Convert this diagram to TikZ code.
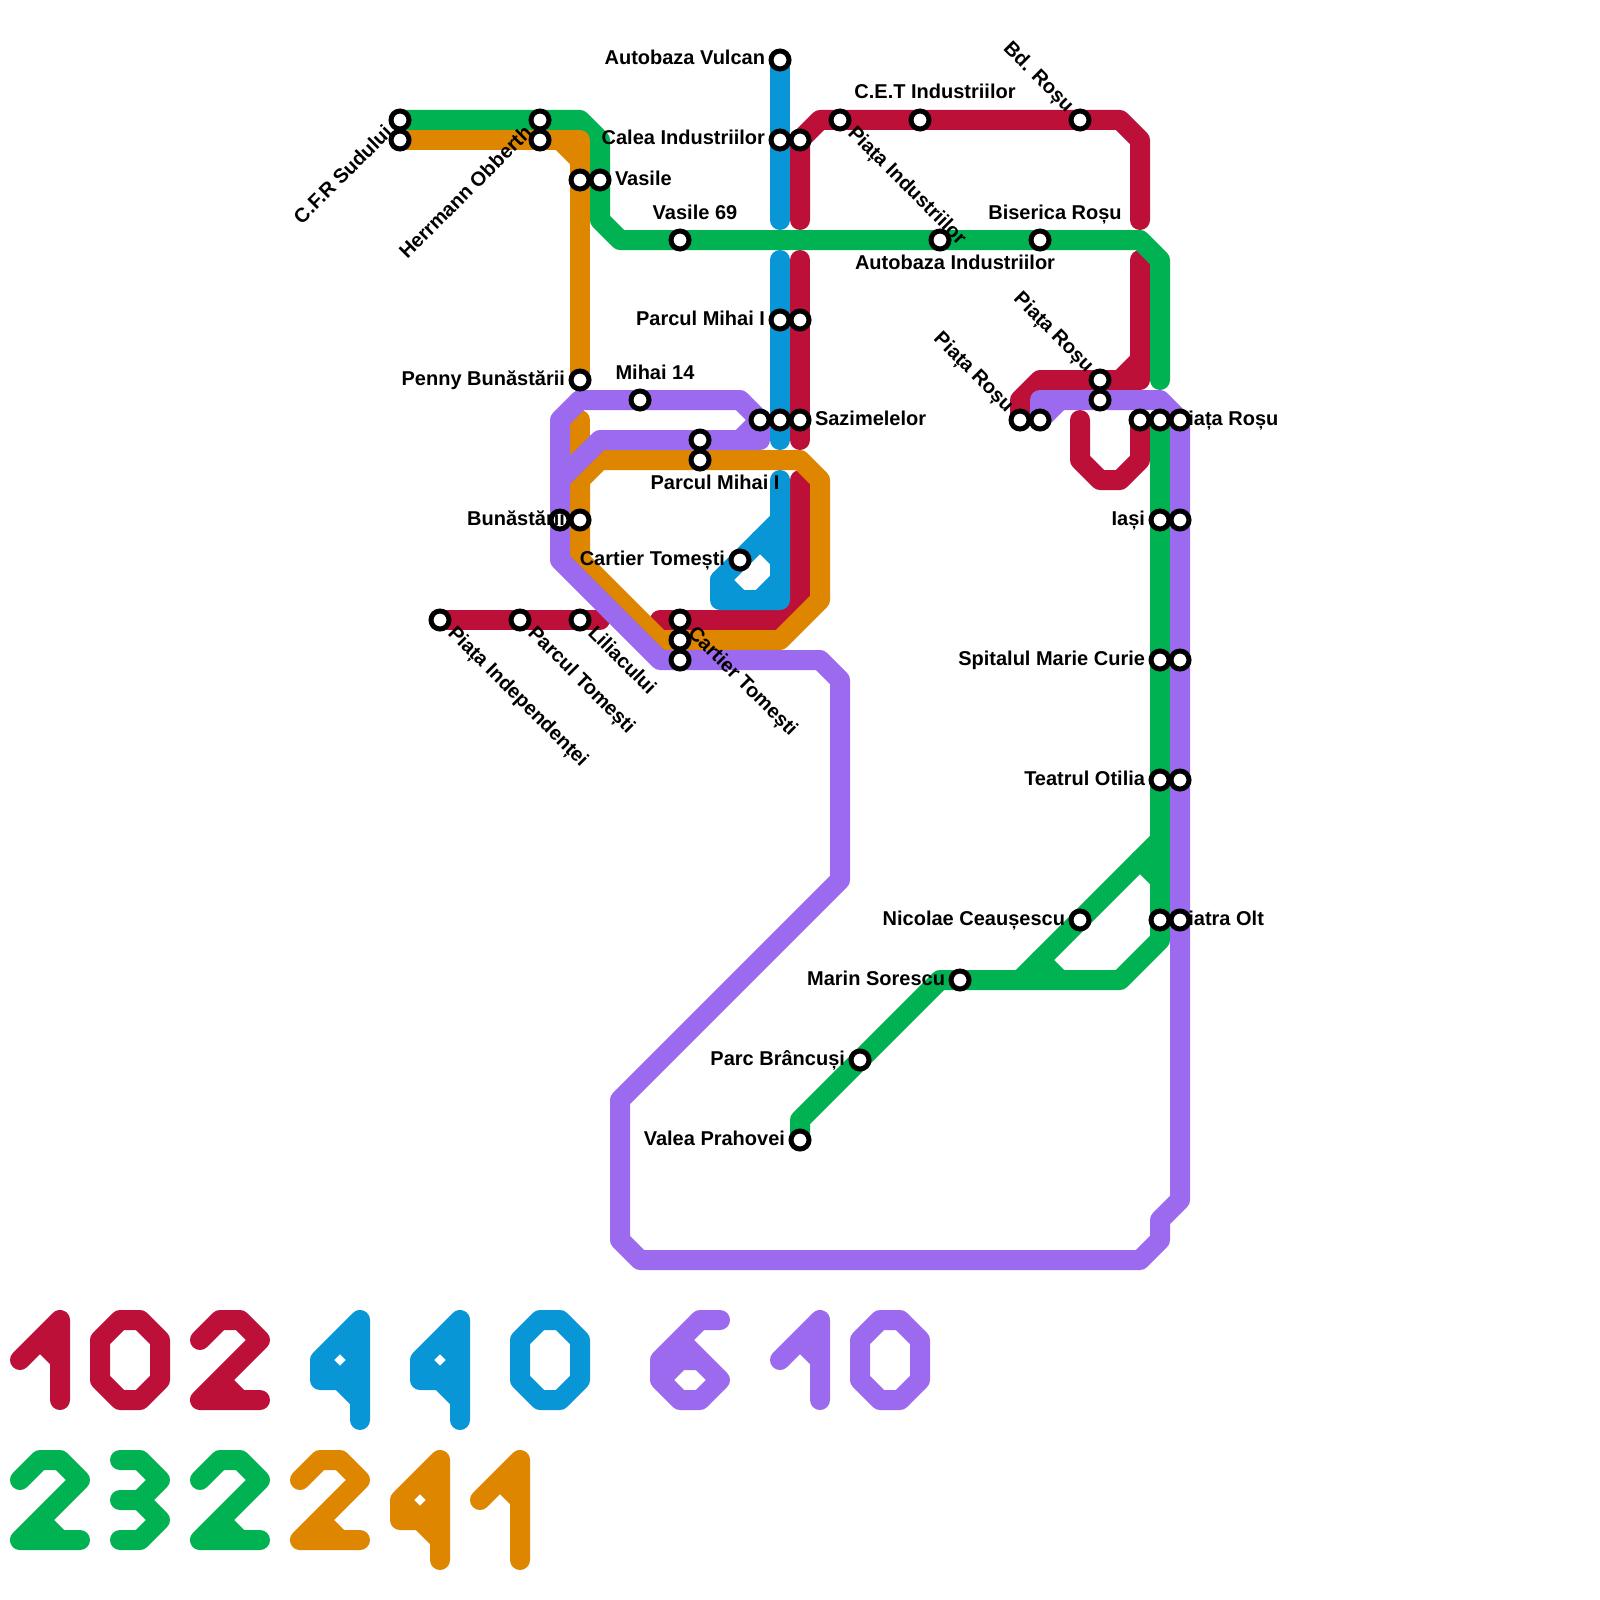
\documentclass[tikz,border=0pt]{standalone}
\usepackage{fontspec}
\setmainfont{Liberation Sans}
\usetikzlibrary{calc,backgrounds}
\definecolor{lred}{HTML}{BD1038}
\definecolor{lblue}{HTML}{0896D7}
\definecolor{lgreen}{HTML}{00B251}
\definecolor{lorange}{HTML}{DF8600}
\definecolor{lpurple}{HTML}{9B6AEE}
\tikzset{
  route/.style={draw=#1,line width=20pt,line cap=round,line join=round},
  stn/.style={circle,draw=black,fill=white,line width=5pt,minimum size=18pt,inner sep=0pt},
  lbl/.style={inner sep=0pt,outer sep=0pt,text=black,font=\fontsize{20}{24}\selectfont\bfseries},
  lblL/.style={lbl,anchor=base east},
  lblR/.style={lbl,anchor=base west},
  lblC/.style={lbl,anchor=base},
  lblDR/.style={lbl,anchor=base west,rotate=-45},
  lblDL/.style={lbl,anchor=base east,rotate=-45},
  lblUR/.style={lbl,anchor=base east,rotate=45}
}
\newcommand\stn[3]{\node[stn] (#1) at (#2,#3) {};}
\newcommand\tL[2]{\node[lblL] at ($(#1.center)+(-15,5)$) {#2};}
\newcommand\tR[2]{\node[lblR] at ($(#1.center)+(15,5)$) {#2};}
\newcommand\tT[2]{\node[lblC] at ($(#1.center)+(15,-21)$) {#2};}
\newcommand\tB[2]{\node[lblC] at ($(#1.center)+(15,29)$) {#2};}
\newcommand\tDR[2]{\node[lblDR] at ($(#1.center)+(7,14)$) {#2};}
\newcommand\tDL[2]{\node[lblDL] at ($(#1.center)+(-14,-7)$) {#2};}
\newcommand\tUR[2]{\node[lblUR] at ($(#1.center)+(-7,14)$) {#2};}
% stick digits: #1 colour, #2 x, #3 y of the top left grid point
\newcommand\dOne[4]{\draw[route=#1,shift={(#2,#3)}] (0,40) -- (40,0) -- (40,#4) (20,20) -- (40,40);}
\newcommand\dZero[3]{\draw[route=#1,shift={(#2,#3)}] (20,0) -- (40,0) -- (60,20) -- (60,60) -- (40,80) -- (20,80) -- (0,60) -- (0,20) -- cycle;}
\newcommand\dTwo[3]{\draw[route=#1,shift={(#2,#3)}] (0,20) -- (20,0) -- (40,0) -- (60,20) -- (0,80) -- (60,80) (20,60) -- (40,80);}
\newcommand\dFour[3]{\draw[route=#1,shift={(#2,#3)}] (40,100) -- (40,0) -- (0,40) -- (0,60) -- (40,60) (20,20) -- (40,40) -- (20,60) (0,40) -- (40,80);}
\begin{document}
\begin{tikzpicture}[x=1pt,y=-1pt]
\useasboundingbox (0,0) rectangle (1600,1600);

% stations with their labels, in drawing order
\stn{cfrA}{400}{120} \tUR{cfrA}{C.F.R Sudului}
\stn{cfrB}{400}{140}
\stn{hoA}{540}{120} \tUR{hoA}{Herrmann Obberth}
\stn{hoB}{540}{140}
\stn{vasO}{580}{180}
\stn{vasG}{600}{180} \tR{vasG}{Vasile}
\stn{vas69}{680}{240} \tT{vas69}{Vasile 69}
\stn{vulcan}{780}{60} \tL{vulcan}{Autobaza Vulcan}
\stn{caleaB}{780}{140} \tL{caleaB}{Calea Industriilor}
\stn{caleaR}{800}{140}
\stn{mihaiB}{780}{320} \tL{mihaiB}{Parcul Mihai I}
\stn{mihaiR}{800}{320}
\stn{penny}{580}{380} \tL{penny}{Penny Bunăstării}
\stn{mihai14}{640}{400} \tT{mihai14}{Mihai 14}
\stn{sazP}{760}{420}
\stn{sazB}{780}{420}
\stn{sazR}{800}{420} \tR{sazR}{Sazimelelor}
\stn{pmP}{700}{440}
\stn{pmO}{700}{460} \tB{pmO}{Parcul Mihai I}
\stn{bunP}{560}{520}
\stn{bunO}{580}{520} \tL{bunO}{Bunăstării}
\stn{ctB}{740}{560} \tL{ctB}{Cartier Tomești}
\stn{pind}{440}{620} \tDR{pind}{Piața Independenței}
\stn{ptom}{520}{620} \tDR{ptom}{Parcul Tomești}
\stn{lil}{580}{620} \tDR{lil}{Liliacului}
\stn{ctR}{680}{620} \tDR{ctR}{Cartier Tomești}
\stn{ctO}{680}{640}
\stn{ctP}{680}{660}
\stn{pi}{840}{120} \tDR{pi}{Piața Industriilor}
\stn{cet}{920}{120} \tT{cet}{C.E.T Industriilor}
\stn{bd}{1080}{120} \tDL{bd}{Bd. Roșu}
\stn{autoI}{940}{240} \tB{autoI}{Autobaza Industriilor}
\stn{bis}{1040}{240} \tT{bis}{Biserica Roșu}
\stn{prA}{1100}{380} \tDL{prA}{Piața Roșu}
\stn{prB}{1100}{400}
\stn{prC}{1020}{420} \tDL{prC}{Piața Roșu}
\stn{prD}{1040}{420}
\stn{prE}{1140}{420}
\stn{prF}{1160}{420} \tR{prF}{Piața Roșu}
\stn{prG}{1180}{420}
\stn{iasG}{1160}{520} \tL{iasG}{Iași}
\stn{iasP}{1180}{520}
\stn{spG}{1160}{660} \tL{spG}{Spitalul Marie Curie}
\stn{spP}{1180}{660}
\stn{teG}{1160}{780} \tL{teG}{Teatrul Otilia}
\stn{teP}{1180}{780}
\stn{oltG}{1160}{920} \tR{oltG}{Piatra Olt}
\stn{oltP}{1180}{920}
\stn{nic}{1080}{920} \tL{nic}{Nicolae Ceaușescu}
\stn{mar}{960}{980} \tL{mar}{Marin Sorescu}
\stn{bra}{860}{1060} \tL{bra}{Parc Brâncuși}
\stn{val}{800}{1140} \tL{val}{Valea Prahovei}

\begin{pgfonlayer}{background}
\fill[white] (0,0) rectangle (1600,1600);
% red
\draw[route=lred] (pind.center) -- (600,620);
\draw[route=lred] (660,620) -- (780,620) -- (800,600) -- (800,480);
\draw[route=lred] (sazR.center) -- (800,440) (800,260) -- (sazR.center);
\draw[route=lred] (800,220) -- (caleaR.center) -- (820,120) -- (1120,120) -- (1140,140) -- (1140,220);
\draw[route=lred] (1140,260) -- (1140,380) -- (1040,380) -- (1020,400) -- (prC.center);
\draw[route=lred] (1140,360) -- (1120,380);
\draw[route=lred] (1080,420) -- (1080,460) -- (1100,480) -- (1120,480) -- (1140,460) -- (prE.center);
% green
\draw[route=lgreen] (cfrA.center) -- (580,120) -- (600,140) -- (600,220) -- (620,240) -- (1140,240) -- (1160,260) -- (1160,380);
\draw[route=lgreen] (prF.center) -- (1160,940) -- (1120,980) -- (mar.center) -- (940,980) -- (800,1120) -- (val.center);
\draw[route=lgreen] (1160,840) -- (1020,980);
\draw[route=lgreen] (1140,860) -- (1160,880);
\draw[route=lgreen] (1040,960) -- (1060,980);
% orange
\draw[route=lorange] (cfrB.center) -- (580,140) -- (penny.center);
\draw[route=lorange] (560,140) -- (580,160);
\draw[route=lorange] (580,420) -- (580,480);
\draw[route=lorange] (580,480) -- (600,460) -- (800,460) -- (820,480) -- (820,600) -- (780,640) -- (660,640) -- (580,560) -- cycle;
% purple
\draw[route=lpurple] (prD.center) -- (1040,400) -- (1160,400) -- (1180,420) -- (1180,1200) -- (1160,1220) -- (1160,1240) -- (1140,1260) -- (640,1260) -- (620,1240) -- (620,1100) -- (840,880) -- (840,680) -- (820,660) -- (660,660) -- (560,560) -- (560,420) -- (580,400) -- (740,400) -- (sazP.center) -- (760,440) -- (600,440) -- (560,480);
\draw[route=lpurple] (sazP.center) -- (740,440);
\draw[route=lpurple] (prD.center) -- (1060,400);
% blue
\draw[route=lblue] (vulcan.center) -- (780,220);
\draw[route=lblue] (780,260) -- (780,440);
\draw[route=lblue] (780,480) -- (780,600) -- (720,600) -- (720,580) -- (780,520);
\draw[route=lblue] (720,580) -- (740,600) (760,600) -- (780,580) (760,540) -- (780,560);
% digits, first row
\dOne{lred}{20}{1320}{80}
\dZero{lred}{100}{1320}
\dTwo{lred}{200}{1320}
\dFour{lblue}{320}{1320}
\dFour{lblue}{420}{1320}
\dZero{lblue}{520}{1320}
\draw[route=lpurple] (720,1320) -- (700,1320) -- (660,1360) -- (660,1380) -- (680,1400) -- (700,1400) -- (720,1380) -- (680,1340) (660,1380) -- (680,1360) -- (700,1360);
\dOne{lpurple}{780}{1320}{80}
\dZero{lpurple}{860}{1320}
% digits, second row
\dTwo{lgreen}{20}{1460}
\draw[route=lgreen] (120,1460) -- (140,1460) -- (160,1480) -- (140,1500) -- (160,1520) -- (140,1540) -- (120,1540) (120,1500) -- (140,1500);
\dTwo{lgreen}{200}{1460}
\dTwo{lorange}{300}{1460}
\dFour{lorange}{400}{1460}
\dOne{lorange}{480}{1460}{100}
\end{pgfonlayer}
\end{tikzpicture}
\end{document}
